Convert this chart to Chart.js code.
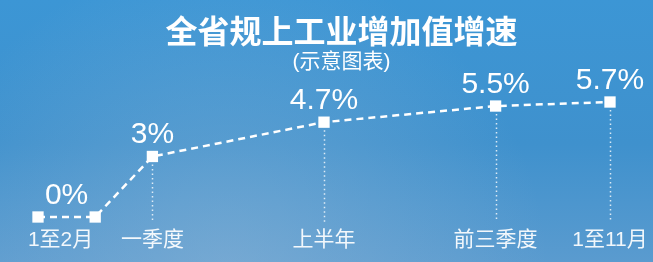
<!DOCTYPE html>
<html>
<head>
<meta charset="utf-8">
<script src="https://cdn.jsdelivr.net/npm/chart.js@4"></script>
<style>
  html, body { margin: 0; padding: 0; }
  #wrap { width: 653px; height: 262px; position: relative; }
</style>
</head>
<body>
<div id="wrap"><canvas id="grafico"></canvas></div>
<script>
// periods: start and end month of each period, value in %
const periodos   = ['1至2月', '一季度', '上半年', '前三季度', '1至11月'];
const mesInicio  = [1, 3, 6, 9, 11];
const mesFim     = [2, 3, 6, 9, 11];
const crescimento = [0, 3, 4.7, 5.5, 5.7];
const rotulos    = ['0%', '3%', '4.7%', '5.5%', '5.7%'];

const titulo    = '全省规上工业增加值增速';
const subtitulo = '(示意图表)';

// one point per month end; 1至2月 gets two points
const pontos = [];
periodos.forEach((p, i) => {
  if (mesInicio[i] !== mesFim[i]) pontos.push({ x: mesInicio[i], y: crescimento[i] });
  pontos.push({ x: mesFim[i], y: crescimento[i] });
});

const CJK = '"Noto Sans CJK SC", "Noto Sans", sans-serif';
const MIX = '"Liberation Sans", "Noto Sans CJK SC", sans-serif';
const NUM = '"Liberation Sans", Arial, sans-serif';

const fundo = {
  id: 'fundo',
  beforeDraw(chart) {
    const { ctx, width, height } = chart;
    ctx.save();
    const g = ctx.createLinearGradient(0, 0, 0, height);
    g.addColorStop(0, '#3c96d5');
    g.addColorStop(0.55, '#3f91cd');
    g.addColorStop(1, '#5a9bcf');
    ctx.fillStyle = g;
    ctx.fillRect(0, 0, width, height);
    const r = ctx.createRadialGradient(width * 0.35, height * 1.05, 10, width * 0.35, height * 1.05, 320);
    r.addColorStop(0, 'rgba(150,185,215,0.45)');
    r.addColorStop(1, 'rgba(150,185,215,0)');
    ctx.fillStyle = r;
    ctx.fillRect(0, 0, width, height);
    ctx.restore();
  }
};

const textos = {
  id: 'textos',
  beforeDatasetsDraw(chart) {
    const { ctx, scales: { x, y }, chartArea } = chart;
    ctx.save();
    // dotted drop lines
    ctx.strokeStyle = 'rgba(255,255,255,0.8)';
    ctx.lineWidth = 1.5;
    ctx.setLineDash([1.5, 3]);
    periodos.forEach((p, i) => {
      if (mesInicio[i] !== mesFim[i]) return;
      const px = Math.round(x.getPixelForValue(mesFim[i])) + 0.5;
      const py = y.getPixelForValue(crescimento[i]);
      ctx.beginPath();
      ctx.moveTo(px, py + 8);
      ctx.lineTo(px, chartArea.bottom + 5);
      ctx.stroke();
    });
    ctx.restore();
  },
  afterDraw(chart) {
    const { ctx, scales: { x, y }, width } = chart;
    ctx.save();
    ctx.fillStyle = '#ffffff';
    ctx.textAlign = 'center';
    ctx.textBaseline = 'middle';
    ctx.font = 'bold 32px ' + CJK;
    ctx.fillText(titulo, width / 2 + 15, 31);
    ctx.font = '21px ' + MIX;
    ctx.fillText(subtitulo, width / 2 + 15, 62);

    periodos.forEach((p, i) => {
      const cx = (x.getPixelForValue(mesInicio[i]) + x.getPixelForValue(mesFim[i])) / 2;
      const py = y.getPixelForValue(crescimento[i]);
      ctx.fillStyle = '#ffffff';
      ctx.font = '30px ' + NUM;
      ctx.textBaseline = 'alphabetic';
      ctx.fillText(rotulos[i], cx, py - 13);
      ctx.fillStyle = 'rgba(255,255,255,0.92)';
      ctx.font = '21px ' + MIX;
      ctx.textBaseline = 'middle';
      ctx.fillText(p, i === 0 ? cx - 6 : cx, 240);
    });
    ctx.restore();
  }
};

new Chart(document.getElementById('grafico').getContext('2d'), {
  type: 'line',
  data: {
    datasets: [{
      data: pontos,
      borderColor: '#ffffff',
      borderWidth: 2.5,
      borderDash: [7, 5],
      pointStyle: 'rect',
      pointRadius: 8,
      pointBorderWidth: 0,
      pointBackgroundColor: '#ffffff',
      tension: 0,
      clip: false
    }]
  },
  options: {
    responsive: true,
    maintainAspectRatio: false,
    animation: false,
    layout: { padding: { left: 38, right: 43, top: 102, bottom: 45 } },
    plugins: {
      legend: { display: false },
      tooltip: { enabled: false },
      title: { display: false }
    },
    scales: {
      x: { type: 'linear', min: 1, max: 11, display: false },
      y: { min: 0, max: 5.7, display: false }
    }
  },
  plugins: [fundo, textos]
});
</script>
</body>
</html>
